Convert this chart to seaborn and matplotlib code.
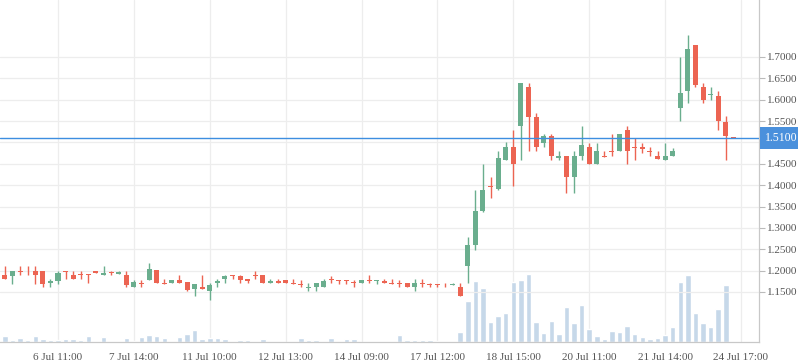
import numpy as np
import pandas as pd
import matplotlib
matplotlib.use('Agg')
import matplotlib.pyplot as plt
import matplotlib.transforms as mtransforms
import seaborn as sns

# candle data (one row per bar)
opens = [1.1906, 1.1867, 1.2000, 1.2000, 1.2000, 1.2000, 1.1711, 1.1750, 1.2000, 1.1906,
         1.1914, 1.1914, 1.2000, 1.1906, 1.1969, 1.1914, 1.1906, 1.1617, 1.1711, 1.1789,
         1.2023, 1.1711, 1.1711, 1.1789, 1.1734, 1.1578, 1.1609, 1.1516, 1.1711, 1.1797,
         1.1906, 1.1867, 1.1797, 1.1906, 1.1906, 1.1703, 1.1750, 1.1781, 1.1711, 1.1695,
         1.1594, 1.1617, 1.1617, 1.1805, 1.1789, 1.1789, 1.1742, 1.1711, 1.1789, 1.1766,
         1.1750, 1.1711, 1.1711, 1.1703, 1.1617, 1.1711, 1.1695, 1.1695, 1.1672, 1.1656,
         1.1606, 1.2104, 1.2609, 1.3403, 1.3986, 1.3916, 1.4590, 1.4890, 1.5394, 1.6290,
         1.5589, 1.4997, 1.5152, 1.4646, 1.4685, 1.4202, 1.4693, 1.4887, 1.4498, 1.4685,
         1.4810, 1.4810, 1.5293, 1.4903, 1.4903, 1.4810, 1.4685, 1.4591, 1.4685, 1.5797,
         1.6196, 1.7289, 1.6297, 1.6102, 1.6094, 1.5485, 1.5117]
highs = [1.2102, 1.2000, 1.2102, 1.2102, 1.2102, 1.2000, 1.1805, 1.2000, 1.2000, 1.2000,
         1.2000, 1.1914, 1.2000, 1.2102, 1.2000, 1.2000, 1.2000, 1.1789, 1.1789, 1.2180,
         1.2023, 1.1805, 1.1789, 1.1906, 1.1734, 1.1695, 1.1906, 1.1711, 1.1805, 1.1906,
         1.1906, 1.1906, 1.1797, 1.2000, 1.1906, 1.1805, 1.1805, 1.1781, 1.1805, 1.1789,
         1.1711, 1.1711, 1.1805, 1.1867, 1.1789, 1.1789, 1.1789, 1.1789, 1.1906, 1.1789,
         1.1805, 1.1805, 1.1789, 1.1703, 1.1805, 1.1805, 1.1711, 1.1695, 1.1711, 1.1711,
         1.1699, 1.2796, 1.3893, 1.4500, 1.4197, 1.4805, 1.5000, 1.5290, 1.6383, 1.6383,
         1.5682, 1.5199, 1.5199, 1.4802, 1.4685, 1.4802, 1.5386, 1.4981, 1.4981, 1.4802,
         1.5199, 1.5199, 1.5386, 1.5098, 1.4997, 1.4888, 1.4802, 1.4997, 1.4864, 1.7000,
         1.7508, 1.7289, 1.6391, 1.6297, 1.6196, 1.5610, 1.5117]
lows = [1.1805, 1.1695, 1.1906, 1.1906, 1.1695, 1.1617, 1.1617, 1.1695, 1.1805, 1.1805,
        1.1805, 1.1703, 1.1945, 1.1906, 1.1906, 1.1914, 1.1617, 1.1617, 1.1617, 1.1789,
        1.1703, 1.1688, 1.1711, 1.1703, 1.1516, 1.1398, 1.1578, 1.1305, 1.1617, 1.1711,
        1.1805, 1.1711, 1.1711, 1.1805, 1.1703, 1.1703, 1.1703, 1.1703, 1.1688, 1.1617,
        1.1516, 1.1516, 1.1617, 1.1711, 1.1695, 1.1695, 1.1617, 1.1711, 1.1711, 1.1695,
        1.1711, 1.1688, 1.1617, 1.1617, 1.1516, 1.1617, 1.1617, 1.1617, 1.1617, 1.1656,
        1.1398, 1.1700, 1.2492, 1.3364, 1.3706, 1.3893, 1.4590, 1.3980, 1.4591, 1.4810,
        1.4810, 1.4903, 1.4591, 1.4591, 1.3813, 1.3813, 1.4591, 1.4498, 1.4498, 1.4654,
        1.4693, 1.4810, 1.4498, 1.4591, 1.4747, 1.4693, 1.4623, 1.4591, 1.4685, 1.5508,
        1.5914, 1.6297, 1.5914, 1.6000, 1.5297, 1.4590, 1.5094]
closes = [1.1805, 1.2000, 1.1977, 1.1984, 1.1906, 1.1695, 1.1750, 1.1945, 1.1969, 1.1805,
          1.1891, 1.1898, 1.1945, 1.1953, 1.1945, 1.1961, 1.1656, 1.1734, 1.1688, 1.2039,
          1.1703, 1.1688, 1.1789, 1.1703, 1.1555, 1.1695, 1.1578, 1.1656, 1.1750, 1.1867,
          1.1883, 1.1789, 1.1766, 1.1883, 1.1703, 1.1750, 1.1703, 1.1703, 1.1688, 1.1672,
          1.1617, 1.1711, 1.1750, 1.1773, 1.1766, 1.1766, 1.1711, 1.1789, 1.1758, 1.1789,
          1.1711, 1.1688, 1.1680, 1.1617, 1.1703, 1.1680, 1.1672, 1.1672, 1.1656, 1.1695,
          1.1403, 1.2609, 1.3403, 1.3893, 1.3948, 1.4640, 1.4890, 1.4500, 1.6383, 1.5604,
          1.4903, 1.5152, 1.4693, 1.4685, 1.4202, 1.4685, 1.4942, 1.4498, 1.4802, 1.4654,
          1.4786, 1.5199, 1.4810, 1.4880, 1.4849, 1.4786, 1.4623, 1.4685, 1.4810, 1.6157,
          1.7187, 1.6352, 1.6000, 1.6125, 1.5508, 1.5141, 1.5100]
volumes = [6.3, 2.3, 4.3, 2.3, 6.3, 2.8, 2.3, 2.3, 3.3, 3.3,
           2.3, 6.3, 1.3, 5.0, 1.3, 1.3, 4.3, 1.3, 5.0, 7.3,
           6.3, 4.3, 1.3, 5.0, 8.3, 12.3, 3.3, 4.3, 4.3, 3.3,
           0.3, 2.3, 2.3, 1.3, 3.3, 1.3, 1.3, 0.3, 0.3, 4.3,
           2.3, 2.3, 1.3, 4.3, 1.3, 3.3, 3.3, 0.3, 1.3, 0.3,
           0.3, 1.3, 7.3, 2.3, 2.3, 2.3, 2.3, 1.3, 0.3, 0.3,
           10.0, 41.0, 61.0, 54.0, 20.0, 26.0, 29.0, 60.0, 62.0, 68.0,
           20.0, 9.0, 21.3, 8.3, 35.0, 19.3, 37.0, 13.0, 6.0, 3.0,
           11.3, 10.3, 16.0, 8.0, 5.0, 3.0, 4.0, 7.0, 15.0, 60.0,
           67.0, 29.3, 19.3, 15.0, 33.0, 57.0, 0.0]
tick_pos = [7, 17, 27, 37, 47, 57, 67, 77, 87, 97]
tick_labels = ['6 Jul 11:00', '7 Jul 14:00', '11 Jul 10:00', '12 Jul 13:00', '14 Jul 09:00',
               '17 Jul 12:00', '18 Jul 15:00', '20 Jul 11:00', '21 Jul 14:00', '24 Jul 17:00']
price_ticks = [1.15, 1.20, 1.25, 1.30, 1.35, 1.40, 1.45, 1.50, 1.55, 1.60, 1.65, 1.70]

df = pd.DataFrame({'idx': np.arange(len(opens)), 'open': opens, 'high': highs,
                   'low': lows, 'close': closes, 'volume': volumes})
df['up'] = df['close'] >= df['open']

GREEN = '#6aae8e'
RED = '#ec6452'
VOL = '#c6d8e9'
GRID = '#ededed'
TXT = '#555555'

sns.set_style('white')
plt.rcParams['font.family'] = ['Liberation Serif', 'DejaVu Serif']

fig = plt.figure(figsize=(7.98, 3.63), dpi=100)
ax2 = fig.add_axes([0.0, 0.0579, 0.9511, 0.9421])
ax = ax2.twinx()

# volume bars in the back
sns.barplot(data=df, x='idx', y='volume', ax=ax2, color=VOL, width=0.72,
            native_scale=True, saturation=1, errorbar=None, zorder=1)
ax2.set_ylim(0, 342)
ax2.set_xlabel('')
ax2.set_ylabel('')
ax2.set_yticks([])

# candles
colors = np.where(df['up'], GREEN, RED)
ax.vlines(df['idx'], df['low'], df['high'], colors=colors, linewidth=1.0, zorder=3)
body_lo = np.minimum(df['open'], df['close'])
body_h = np.maximum(np.abs(df['close'] - df['open']), 0.0018)
ax.bar(df['idx'], body_h, bottom=body_lo - (body_h - np.abs(df['close'] - df['open'])) / 2,
       width=0.66, color=colors, linewidth=0, zorder=4)

ax.set_ylim(1.0330, 1.8334)
ax.set_xlim(-0.643, 99.37)
ax2.set_xlim(-0.643, 99.37)

last = closes[-1]
ax.set_yticks(price_ticks)
# the 1.5000 label sits under the last-price box, so leave it blank
ax.set_yticklabels(['' if abs(p - last) < 0.02 else f'{p:.4f}' for p in price_ticks])
ax.yaxis.tick_right()
ax.tick_params(axis='y', colors='#bbbbbb', labelcolor=TXT, labelsize=8, length=4, width=0.8, pad=2)
ax2.set_xticks(tick_pos)
ax2.set_xticklabels(tick_labels)
ax2.tick_params(axis='x', colors='#bbbbbb', labelcolor=TXT, labelsize=8, length=4, width=0.8, pad=4)
ax.tick_params(axis='x', bottom=False, labelbottom=False)

# grid lines
for p in price_ticks:
    ax.axhline(p, color=GRID, linewidth=0.9, zorder=0)
for t in tick_pos:
    ax2.axvline(t, color=GRID, linewidth=0.9, zorder=0)

for a in (ax, ax2):
    for s in ['top', 'left']:
        a.spines[s].set_visible(False)
    a.spines['right'].set_color('#c8c8c8')
    a.spines['bottom'].set_color('#c8c8c8')

# last price line and label
ax.axhline(last, color='#3d8ee0', linewidth=1.0, zorder=5)
trans = mtransforms.blended_transform_factory(ax.transAxes, ax.transData)
ax.text(1.008, last, f'{last:.4f}', transform=trans, ha='left', va='center', color='white',
        fontsize=8.5, clip_on=False, zorder=20,
        bbox=dict(boxstyle='square,pad=0.45', fc='#4a90dc', ec='none'))

plt.savefig('out.png', dpi=100)
